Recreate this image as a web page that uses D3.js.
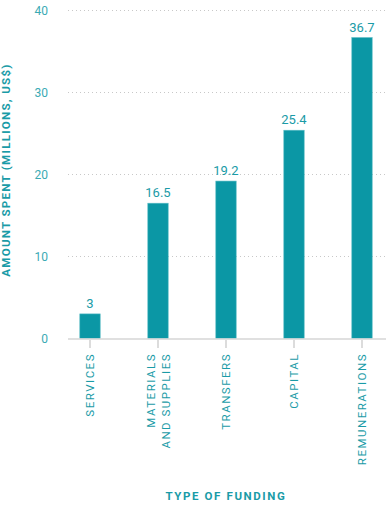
<!DOCTYPE html>
<html>
<head>
<meta charset="utf-8">
<script src="https://cdn.jsdelivr.net/npm/d3@7"></script>
<style>
  body { margin: 0; background: #fff; }
  svg text { font-family: Roboto, "Liberation Sans", sans-serif; }
</style>
</head>
<body>
<div id="chart"></div>
<script>
var categories = ['SERVICES', 'MATERIALS\nAND SUPPLIES', 'TRANSFERS', 'CAPITAL', 'REMUNERATIONS'];
var values = [3, 16.5, 19.2, 25.4, 36.7];
var yTicks = [0, 10, 20, 30, 40];

var width = 386,
    height = 507;

var teal = '#0b97a5',
    textTeal = '#1a9ba7',
    tickTeal = '#3aaab4';

var svg = d3.select('#chart').append('svg')
    .attr('width', width)
    .attr('height', height);

var x = d3.scaleBand()
    .domain(categories)
    .range([56, 396])
    .paddingInner(0.7)
    .paddingOuter(0.35);

var y = d3.scaleLinear()
    .domain([0, 40])
    .range([338.5, 10.5]);

// gridlines
svg.append('g')
    .selectAll('line')
    .data(yTicks.filter(function(d) { return d > 0; }))
    .enter().append('line')
    .attr('x1', 68)
    .attr('x2', width)
    .attr('y1', function(d) { return y(d); })
    .attr('y2', function(d) { return y(d); })
    .attr('stroke', '#c8c8c8')
    .attr('stroke-dasharray', '1,3');

// y tick labels
svg.append('g')
    .selectAll('text')
    .data(yTicks)
    .enter().append('text')
    .attr('x', 48)
    .attr('y', function(d) { return y(d); })
    .attr('dy', '0.35em')
    .attr('text-anchor', 'end')
    .attr('fill', tickTeal)
    .style('font-size', '12px')
    .text(function(d) { return d; });

// bars
svg.append('g')
    .selectAll('rect')
    .data(values)
    .enter().append('rect')
    .attr('x', function(d, i) { return x(categories[i]); })
    .attr('width', x.bandwidth())
    .attr('y', function(d) { return y(d); })
    .attr('height', function(d) { return y(0) - y(d); })
    .attr('fill', teal)
    .attr('stroke', '#5bbcc5')
    .attr('stroke-width', 0.6);

// value labels
svg.append('g')
    .selectAll('text')
    .data(values)
    .enter().append('text')
    .attr('x', function(d, i) { return x(categories[i]) + x.bandwidth() / 2; })
    .attr('y', function(d) { return y(d) - 6; })
    .attr('text-anchor', 'middle')
    .attr('fill', textTeal)
    .style('font-size', '13px')
    .text(function(d) { return d; });

// baseline
svg.append('line')
    .attr('x1', 68)
    .attr('x2', width)
    .attr('y1', y(0) + 0.5)
    .attr('y2', y(0) + 0.5)
    .attr('stroke', '#d6d6d6')
    .attr('stroke-width', 1.5);

// x ticks + labels
var xg = svg.append('g')
    .selectAll('g')
    .data(categories)
    .enter().append('g')
    .attr('transform', function(d) {
      return 'translate(' + (x(d) + x.bandwidth() / 2) + ',0)';
    });

xg.append('line')
    .attr('y1', 340)
    .attr('y2', 348)
    .attr('stroke', '#d0d0d0')
    .attr('stroke-width', 1.5);

xg.each(function(d) {
  var lines = d.split('\n');
  var g = d3.select(this);
  lines.forEach(function(line, j) {
    var off = (j - (lines.length - 1) / 2) * 15;
    g.append('text')
      .attr('transform', 'translate(' + off + ',353) rotate(-90)')
      .attr('dy', '0.35em')
      .attr('text-anchor', 'end')
      .attr('fill', textTeal)
      .style('font-size', '11.5px')
      .style('letter-spacing', '1.5px')
      .text(line);
  });
});

// axis titles
svg.append('text')
    .attr('transform', 'translate(6,170) rotate(-90)')
    .attr('dy', '0.35em')
    .attr('text-anchor', 'middle')
    .attr('fill', textTeal)
    .style('font-size', '11.5px')
    .style('font-weight', 'bold')
    .style('letter-spacing', '1.3px')
    .text('AMOUNT SPENT (MILLIONS, US$)');

svg.append('text')
    .attr('x', 226)
    .attr('y', 496)
    .attr('dy', '0.35em')
    .attr('text-anchor', 'middle')
    .attr('fill', textTeal)
    .style('font-size', '11.5px')
    .style('font-weight', 'bold')
    .style('letter-spacing', '1.6px')
    .text('TYPE OF FUNDING');
</script>
</body>
</html>
